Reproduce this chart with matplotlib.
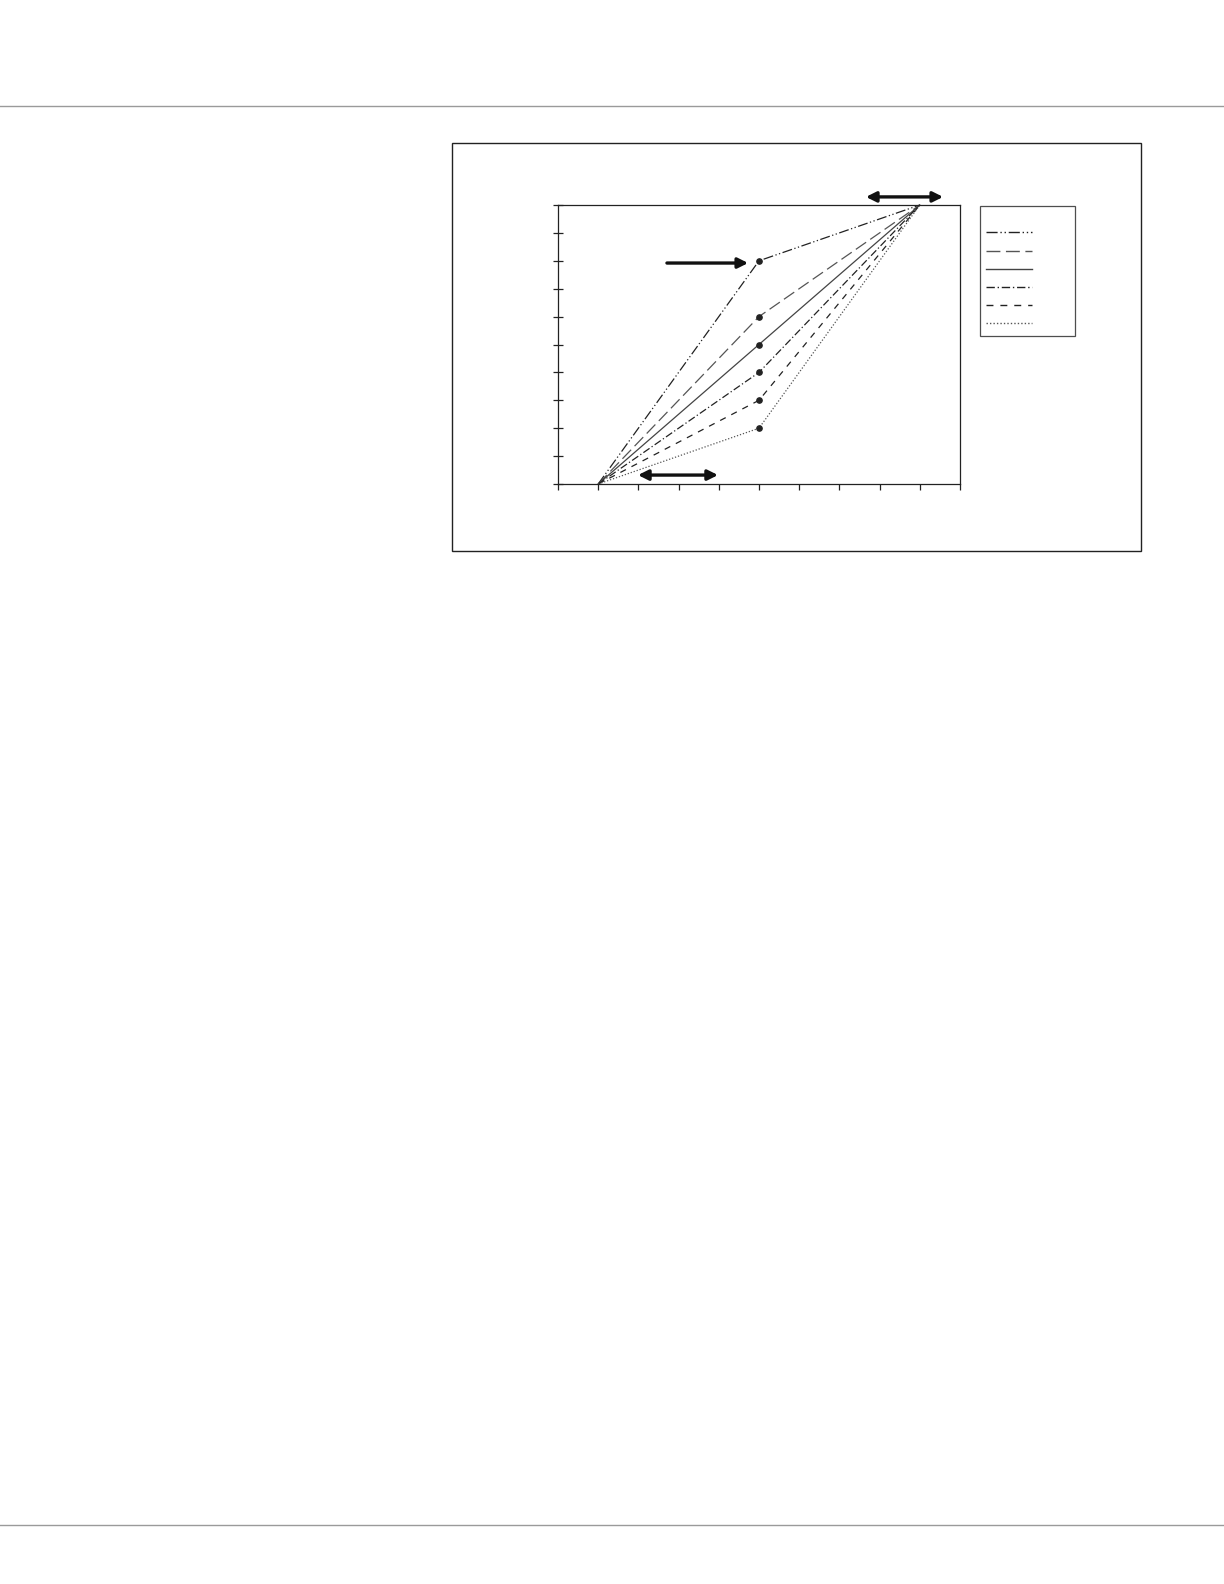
import numpy as np
import matplotlib
matplotlib.use("Agg")
import matplotlib.pyplot as plt
from matplotlib.lines import Line2D
from matplotlib.patches import Rectangle

# three points per series: start, middle, end
x_pts = [1, 5, 9]
start_y = 0
end_y = 10
mid_y = [8, 6, 5, 4, 3, 2]

styles = [
    (0, (8, 2, 1, 2, 1, 2)),   # dash-dot-dot
    (0, (10, 4)),              # long dash
    "-",                       # solid
    (0, (6, 2, 1, 2)),         # dash-dot
    (0, (5, 5)),               # dashed
    (0, (1, 1.5)),             # dotted
]
colors = ["#222222", "#555555", "#444444", "#222222", "#222222", "#555555"]

# annotation arrows (data coords)
top_arrow = ((7.66, 10.29), (9.58, 10.29))
bottom_arrow = ((1.99, 0.32), (3.98, 0.32))
point_arrow = ((2.71, 7.92), (4.73, 7.92))

fig = plt.figure(figsize=(12.24, 15.84), dpi=100)

# page rules
for yy in [1 - 106 / 1584, 1 - 1525 / 1584]:
    fig.add_artist(Line2D([0, 1], [yy, yy], transform=fig.transFigure,
                          color="#9a9a9a", linewidth=1.0))

# outer frame
fig.add_artist(Rectangle((452 / 1224, 1 - 551 / 1584), 689 / 1224, 408 / 1584,
                         transform=fig.transFigure, fill=False,
                         edgecolor="#222222", linewidth=1.0))

ax = fig.add_axes([558 / 1224, 1 - 484 / 1584, 402 / 1224, 279 / 1584])

handles = []
for m, ls, c in zip(mid_y, styles, colors):
    ax.plot(x_pts, [start_y, m, end_y], linestyle=ls, color=c,
            linewidth=0.9, marker="o", markersize=3.8, markevery=[1],
            markerfacecolor="#222222", markeredgecolor="#222222",
            clip_on=False)
    handles.append(Line2D([], [], linestyle=ls, color=c, linewidth=1.0))

ax.set_xlim(0, 10)
ax.set_ylim(0, 10)
ax.set_xticks(np.arange(0, 11, 1))
ax.set_yticks(np.arange(0, 11, 1))
ax.set_xticklabels([])
ax.set_yticklabels([])
ax.tick_params(axis="x", direction="out", length=4, width=0.9, color="#222222")
ax.tick_params(axis="y", direction="inout", length=7, width=0.9, color="#222222")
for sp in ax.spines.values():
    sp.set_linewidth(0.9)
    sp.set_color("#222222")

for (a, b), style in [(top_arrow, "<|-|>"), (bottom_arrow, "<|-|>"),
                      (point_arrow, "-|>")]:
    ax.annotate("", xy=b, xytext=a, annotation_clip=False,
                arrowprops=dict(arrowstyle=style, color="#111111", lw=2.4,
                                mutation_scale=15, shrinkA=0, shrinkB=0))

leg = fig.legend(handles, [""] * 6, loc="upper left",
                 bbox_to_anchor=(980 / 1224, 1 - 206 / 1584),
                 frameon=True, fancybox=False, handlelength=3.7,
                 handletextpad=3.0, labelspacing=0.41, borderpad=0.45,
                 borderaxespad=0, fontsize=9, title=" ", title_fontsize=7)
leg.get_frame().set_edgecolor("#222222")
leg.get_frame().set_linewidth(0.9)

fig.savefig("out.png", dpi=100, facecolor="white")
